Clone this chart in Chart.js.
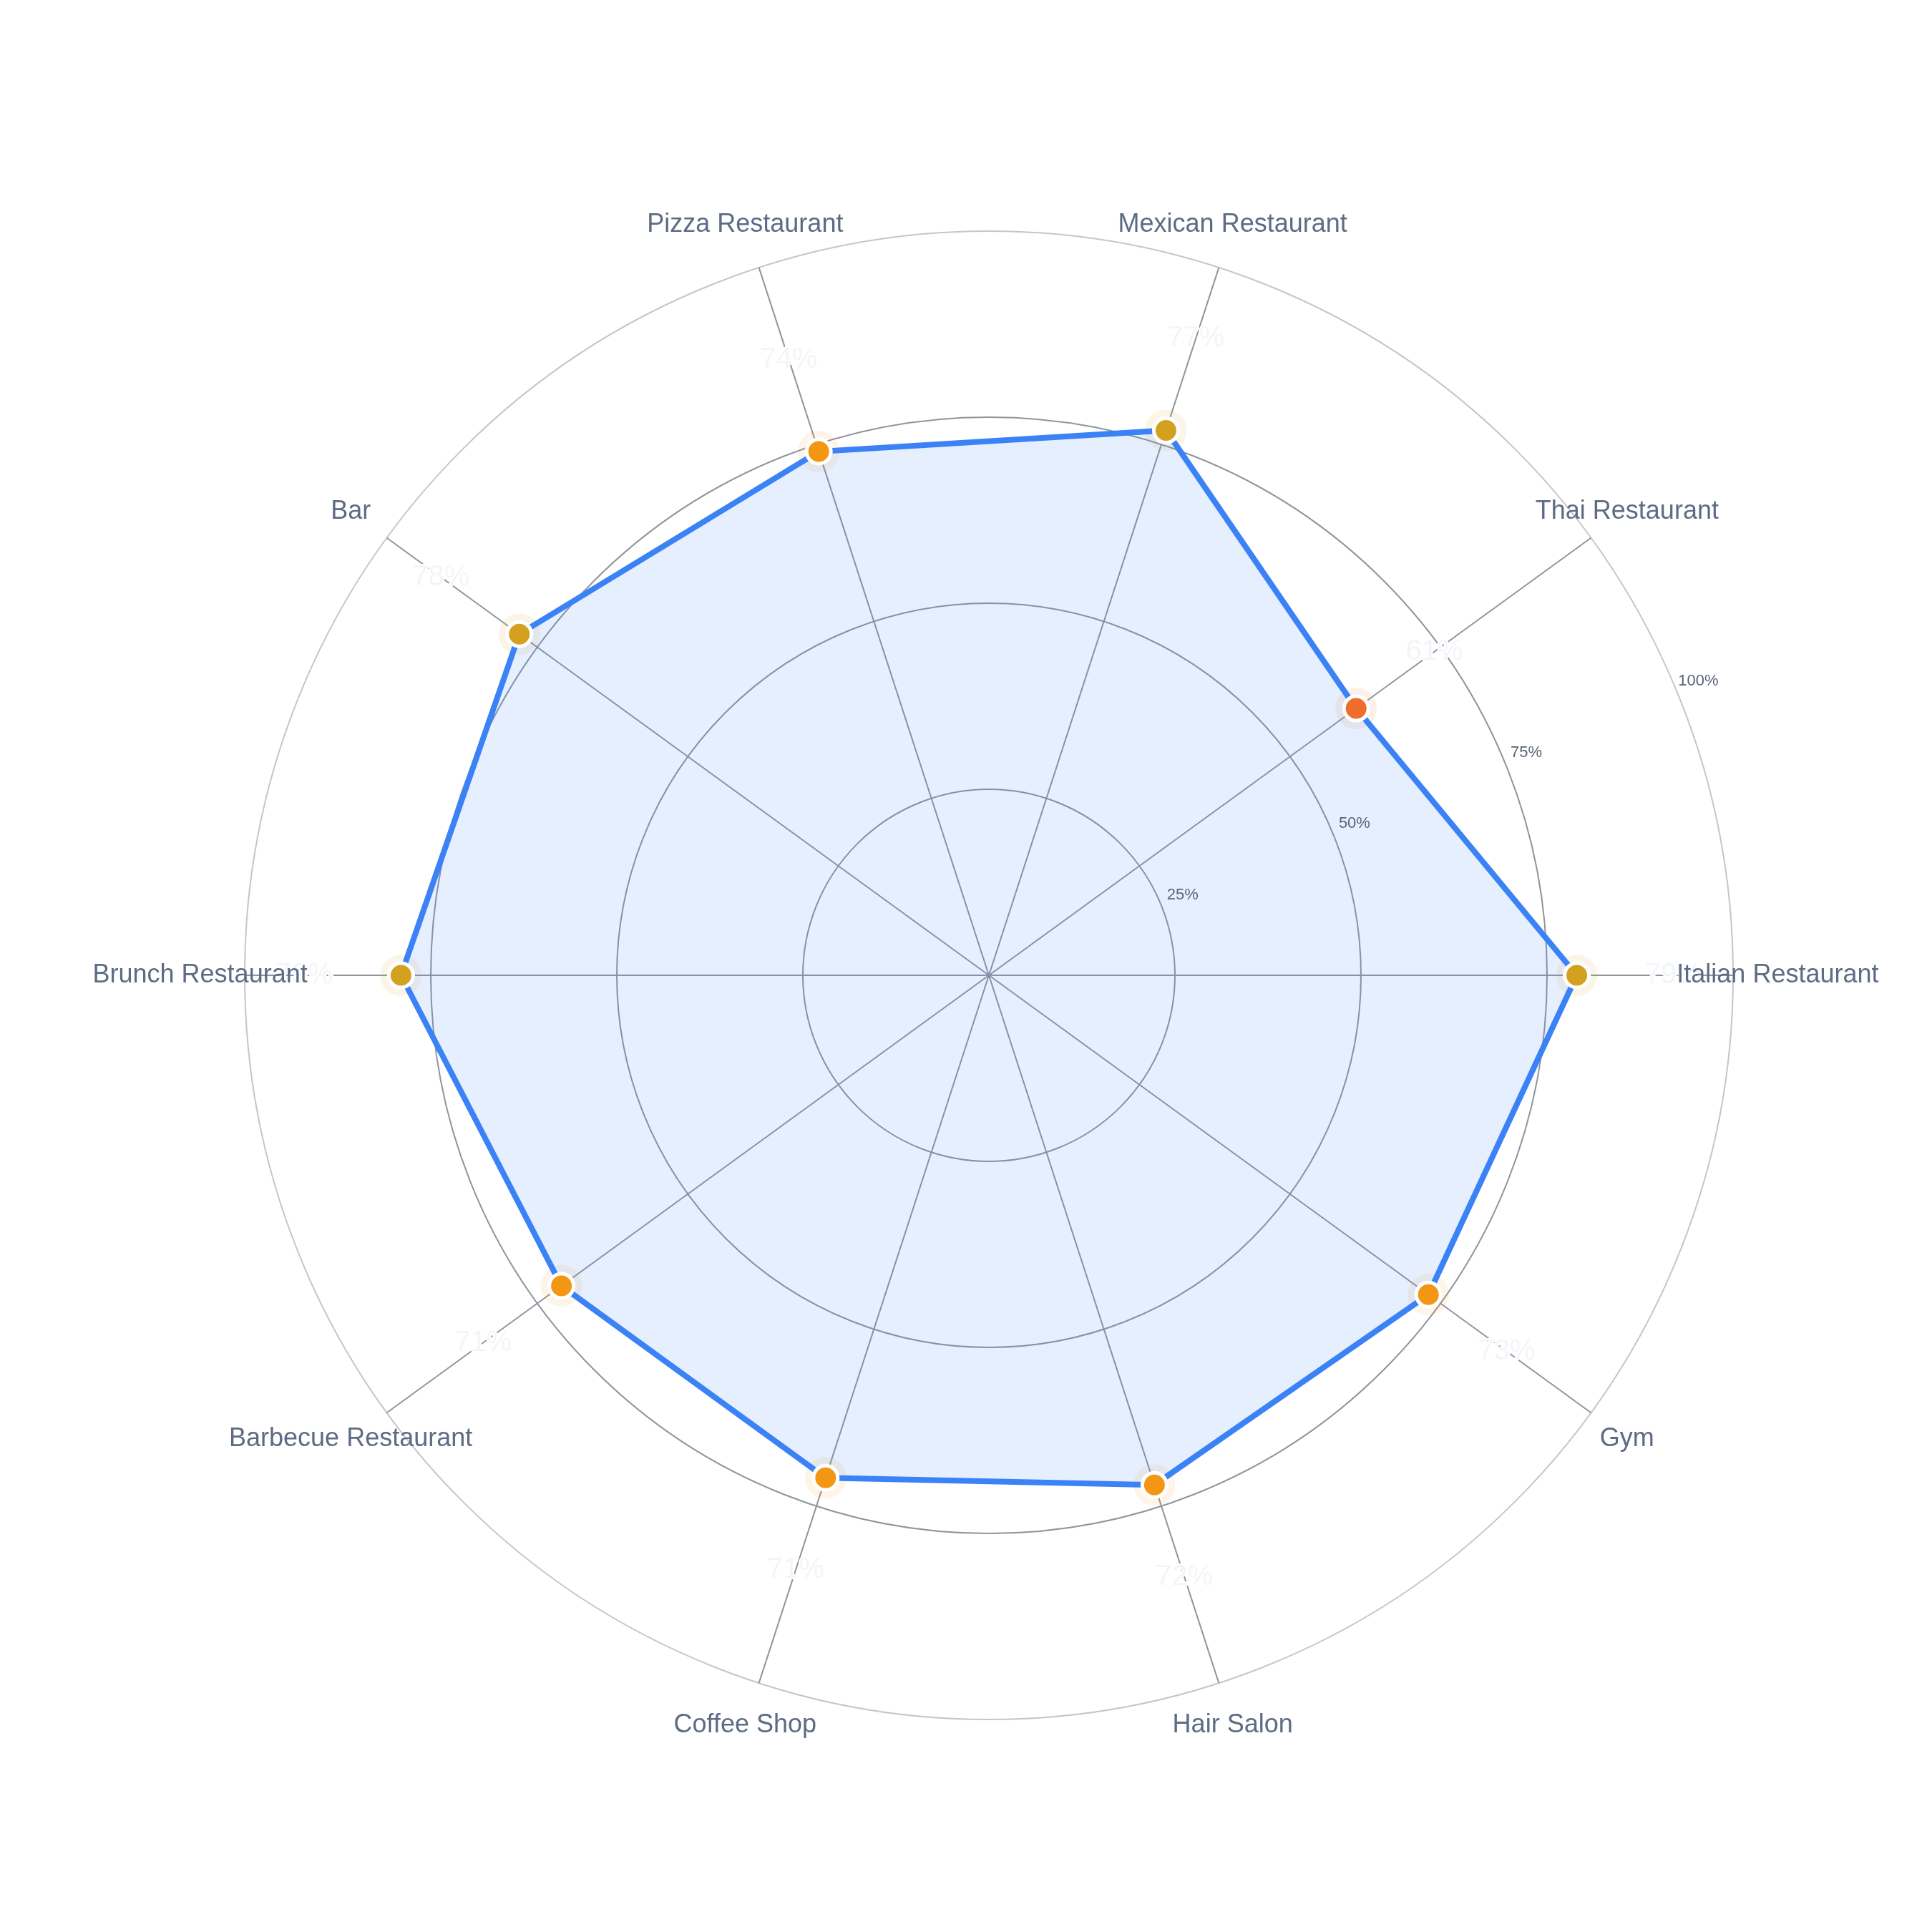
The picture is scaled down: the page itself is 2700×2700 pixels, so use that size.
<!DOCTYPE html>
<html>
<head>
<meta charset="utf-8">
<script src="https://cdn.jsdelivr.net/npm/chart.js@4.4.1/dist/chart.umd.min.js"></script>
<style>
  html, body { margin: 0; padding: 0; background: #ffffff; }
  #wrap { width: 2700px; height: 2700px; }
</style>
</head>
<body>
<div id="wrap"><canvas id="chart"></canvas></div>
<script>
// categories in the order they appear, counter-clockwise from the right
const categories = [
  'Italian Restaurant', 'Thai Restaurant', 'Mexican Restaurant', 'Pizza Restaurant', 'Bar',
  'Brunch Restaurant', 'Barbecue Restaurant', 'Coffee Shop', 'Hair Salon', 'Gym'
];
const scores = [79, 61, 77, 74, 78, 79, 71, 71, 72, 73];
const tickValues = [25, 50, 75, 100];

// Chart.js walks clockwise, the picture goes counter-clockwise
const order = [0].concat(categories.map((_, i) => i).slice(1).reverse());
const labels = order.map(i => categories[i]);
const values = order.map(i => scores[i]);

function pointColor(v, a) {
  const c = v >= 75 ? [212, 160, 32] : v >= 65 ? [243, 150, 20] : [240, 108, 42];
  return a == null ? `rgb(${c.join(',')})` : `rgba(${c.join(',')},${a})`;
}

const FONT = '"Liberation Sans", Arial, Helvetica, sans-serif';

const labelPlugin = {
  id: 'labelPlugin',
  afterDraw(chart) {
    const ctx = chart.ctx;
    const r = chart.scales.r;
    const R = r.getDistanceFromCenterForValue(100);
    ctx.save();

    // radial tick labels, along a slanted line
    const th = 22.5 * Math.PI / 180;
    ctx.font = `22px ${FONT}`;
    ctx.fillStyle = '#5a6478';
    ctx.textAlign = 'center';
    ctx.textBaseline = 'middle';
    tickValues.forEach(v => {
      const d = r.getDistanceFromCenterForValue(v) + 33;
      ctx.fillText(v + '%', r.xCenter + Math.cos(th) * d, r.yCenter - Math.sin(th) * d);
    });

    // faint value labels
    ctx.font = `40px ${FONT}`;
    ctx.lineWidth = 4;
    ctx.lineJoin = 'round';
    ctx.strokeStyle = '#ffffff';
    ctx.fillStyle = '#f3f5f9';
    values.forEach((v, i) => {
      const p = r.getPointPositionForValue(i, v + 13);
      ctx.strokeText(v + '%', p.x, p.y);
      ctx.fillText(v + '%', p.x, p.y);
    });

    // category labels
    ctx.font = `36px ${FONT}`;
    ctx.fillStyle = '#5d6b84';
    labels.forEach((lab, i) => {
      const p = r.getPointPosition(i, R * 1.06);
      ctx.fillText(lab, p.x, p.y);
    });
    ctx.restore();
  }
};

new Chart(document.getElementById('chart'), {
  type: 'radar',
  data: {
    labels: labels,
    datasets: [
      {
        data: values,
        borderColor: '#3b82f6',
        borderWidth: 8,
        backgroundColor: 'rgba(59,130,246,0.13)',
        fill: true,
        tension: 0,
        pointRadius: 17,
        pointBorderWidth: 5,
        pointBorderColor: '#ffffff',
        pointBackgroundColor: values.map(v => pointColor(v)),
        pointHoverRadius: 17
      },
      {
        data: values,
        showLine: false,
        fill: false,
        borderWidth: 0,
        pointRadius: 29,
        pointBorderWidth: 0,
        pointBackgroundColor: values.map(v => pointColor(v, 0.1)),
        pointHoverRadius: 29
      }
    ]
  },
  options: {
    responsive: true,
    maintainAspectRatio: false,
    devicePixelRatio: 1,
    animation: false,
    layout: { padding: { left: 342, right: 278, top: 323, bottom: 297 } },
    plugins: {
      legend: { display: false },
      tooltip: { enabled: false }
    },
    scales: {
      r: {
        min: 0,
        max: 100,
        startAngle: 90,
        ticks: { stepSize: 25, display: false },
        pointLabels: { display: false },
        grid: {
          circular: true,
          lineWidth: 2,
          color: ctx => ctx.tick && ctx.tick.value === 100 ? '#c3c6cc' : '#8f949e'
        },
        angleLines: { color: '#8f949e', lineWidth: 2 }
      }
    }
  },
  plugins: [labelPlugin]
});
</script>
</body>
</html>
